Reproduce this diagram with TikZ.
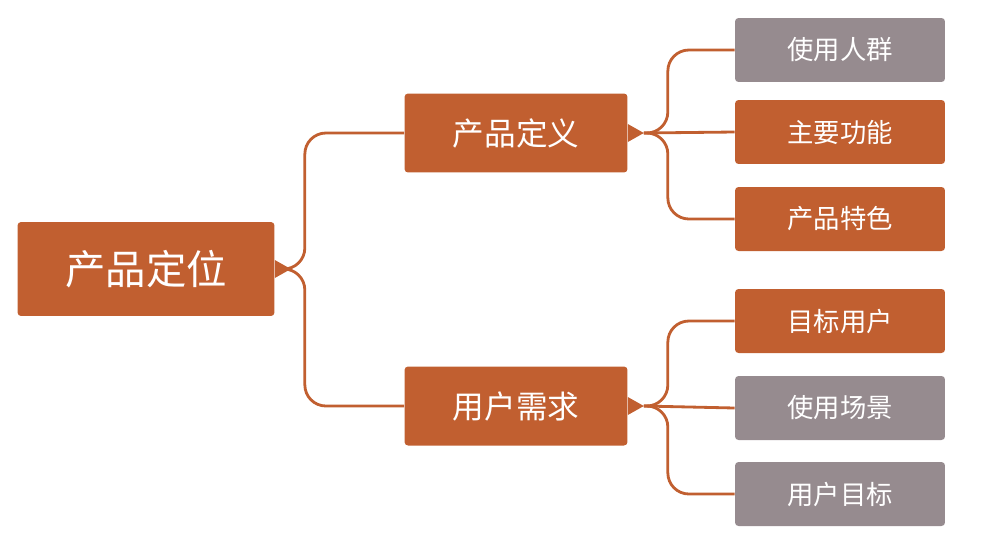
\documentclass[tikz,border=0pt]{standalone}
\usepackage{fontspec}
\setmainfont{Noto Sans CJK SC}
\usetikzlibrary{calc}
\definecolor{rust}{HTML}{C15F30}
\definecolor{mauve}{HTML}{968B8F}
\begin{document}
\begin{tikzpicture}[x=0.02cm,y=-0.02cm]
  \tikzset{box/.style={fill=#1, text=white, rounded corners=2pt,
      inner sep=0pt, anchor=center},
    root box/.style={box=rust, minimum width=5.14cm, minimum height=1.88cm, font=\fontsize{23}{23}\selectfont},
    mid box/.style={box=rust, minimum width=4.46cm, minimum height=1.58cm, font=\fontsize{18}{18}\selectfont},
    leaf box/.style={box=#1, minimum width=4.2cm, minimum height=1.28cm, font=\fontsize{15}{15}\selectfont},
    link/.style={draw=rust, line width=1.6pt, rounded corners=12pt}
  }
  \useasboundingbox (0,0) rectangle (1000,545);
  \node [root box] (pos) at (146,269) {产品定位};
  \node [mid box] (def) at (516,133) {产品定义};
  \node [mid box] (need) at (516,406) {用户需求};
  \node [leaf box=mauve] (crowd) at (840,50) {使用人群};
  \node [leaf box=rust] (func) at (840,132) {主要功能};
  \node [leaf box=rust] (feat) at (840,219) {产品特色};
  \node [leaf box=rust] (user) at (840,321) {目标用户};
  \node [leaf box=mauve] (scene) at (840,408) {使用场景};
  \node [leaf box=mauve] (goal) at (840,494) {用户目标};

  % notches
  \foreach \n in {pos,def,need}
    \fill [rust] ($(\n.east)+(0,-9)$) -- ($(\n.east)+(16,0)$) -- ($(\n.east)+(0,9)$) -- cycle;

  \coordinate (pj) at ($(pos.east)+(16,0)$);
  \draw [link] (pj) -- ++(14,0) |- (def.west);
  \draw [link] (pj) -- ++(14,0) |- (need.west);
  \coordinate (dj) at ($(def.east)+(16,0)$);
  \draw [link] (dj) -- ++(24,0) |- (crowd.west);
  \draw [link] (dj) -- (func.west);
  \draw [link] (dj) -- ++(24,0) |- (feat.west);
  \coordinate (nj) at ($(need.east)+(16,0)$);
  \draw [link] (nj) -- ++(24,0) |- (user.west);
  \draw [link] (nj) -- (scene.west);
  \draw [link] (nj) -- ++(24,0) |- (goal.west);
\end{tikzpicture}
\end{document}
